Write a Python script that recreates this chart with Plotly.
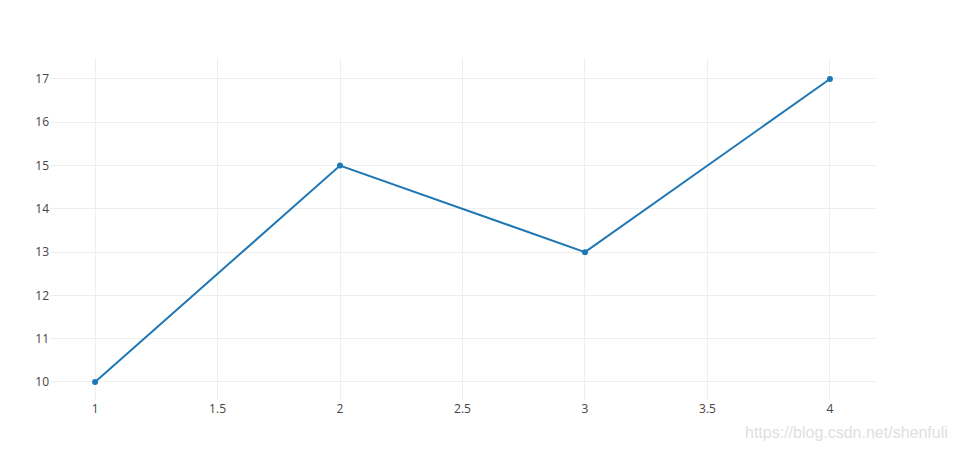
import plotly.graph_objects as go

x_values = [1, 2, 3, 4]
y_values = [10, 15, 13, 17]
watermark = "https://blog.csdn.net/shenfuli"

fig = go.Figure()
fig.add_trace(go.Scatter(
    x=x_values, y=y_values, mode="lines+markers",
    line=dict(color="#1f77b4", width=2),
    marker=dict(color="#1f77b4", size=6),
))

fig.update_layout(
    width=950, height=444,
    template="none",
    paper_bgcolor="white", plot_bgcolor="white",
    font=dict(family="Open Sans, Verdana, sans-serif", size=12, color="#444"),
    margin=dict(l=42, r=82, t=50, b=52),
    showlegend=False,
    xaxis=dict(range=[0.816, 4.188], tickvals=[1, 1.5, 2, 2.5, 3, 3.5, 4],
               ticktext=["1", "1.5", "2", "2.5", "3", "3.5", "4"],
               showgrid=True, gridcolor="#eee", gridwidth=1, zeroline=False,
               showline=False, ticks="", ticklen=0),
    yaxis=dict(range=[9.584, 17.485], dtick=1,
               showgrid=True, gridcolor="#eee", gridwidth=1, zeroline=False,
               showline=False, ticks="", ticklen=0),
    annotations=[dict(text=watermark, xref="paper", yref="paper",
                      x=1.0896, y=-0.0936, xanchor="right", yanchor="middle",
                      showarrow=False,
                      font=dict(family="Arial, Liberation Sans, sans-serif", size=16, color="#e0e0e0"))],
)

fig.write_html("out.html")
